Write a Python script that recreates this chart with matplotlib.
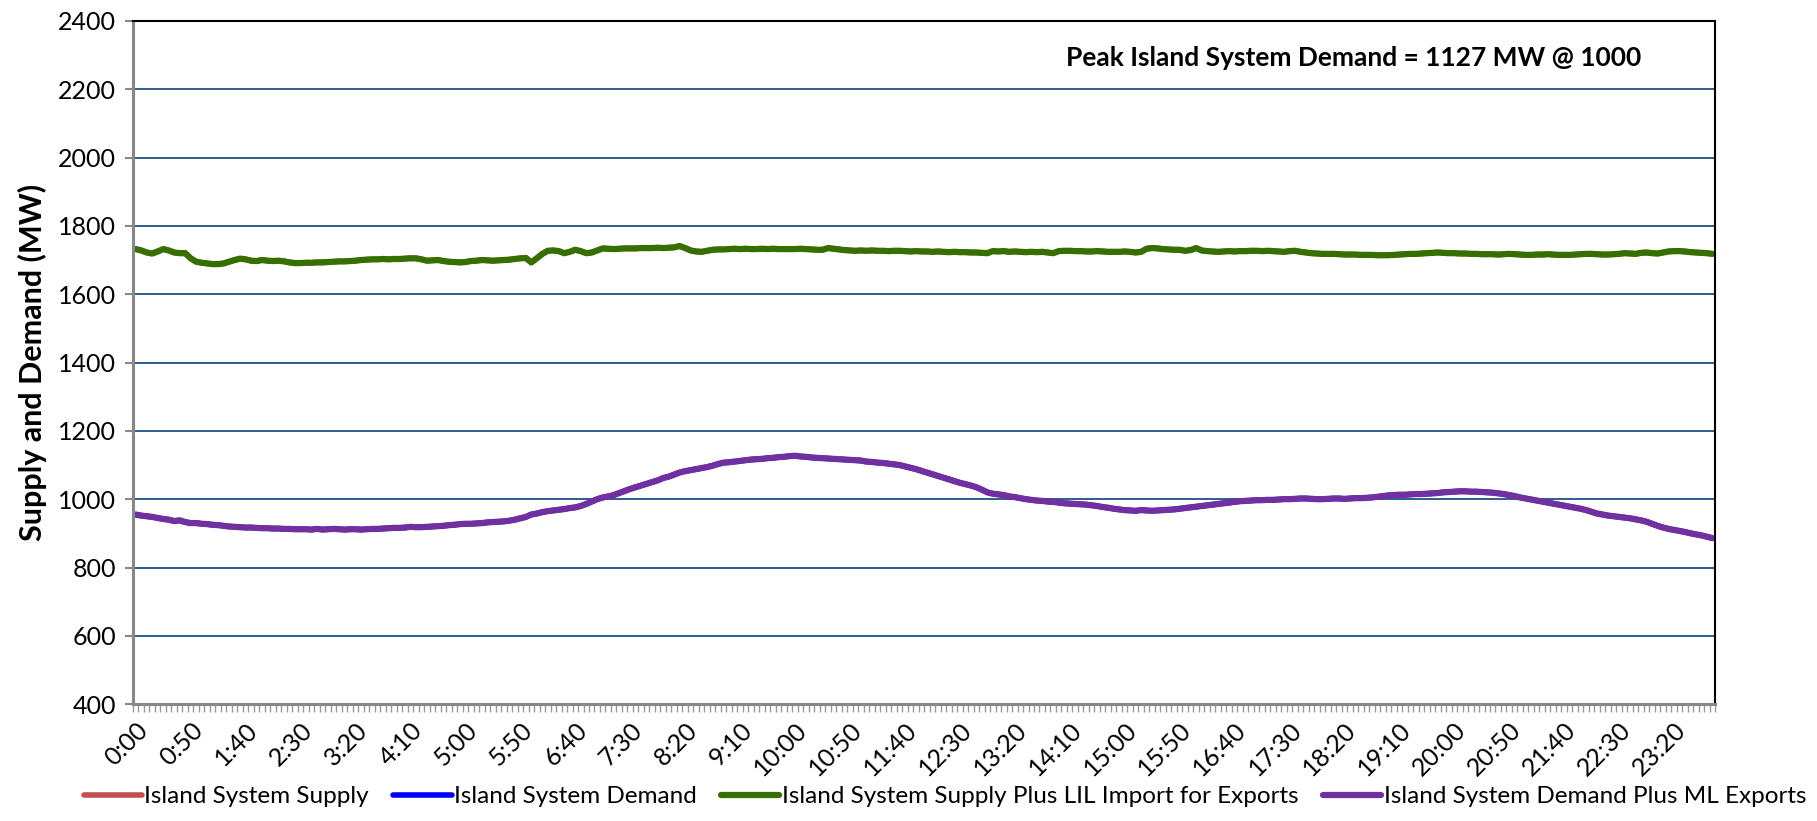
import numpy as np
import matplotlib
matplotlib.use("Agg")
import matplotlib.pyplot as plt

plt.rcParams['font.family'] = ['Lato', 'DejaVu Sans']

# dados de 5 em 5 minutos (288 pontos)
# Island System Demand Plus ML Exports (MW)
demand_plus_ml = [
    955, 952, 950, 948, 945, 942, 940, 936, 938, 933, 930, 930,
    928, 927, 925, 924, 922, 920, 919, 918, 917, 917, 916, 915,
    915, 914, 914, 913, 913, 912, 912, 912, 911, 913, 911, 912,
    913, 912, 911, 912, 912, 911, 912, 913, 913, 914, 915, 916,
    916, 917, 919, 918, 918, 919, 920, 921, 922, 924, 925, 927,
    928, 928, 929, 930, 932, 933, 934, 935, 937, 940, 944, 948,
    955, 958, 962, 965, 967, 969, 971, 974, 976, 980, 986, 993,
    1000, 1005, 1008, 1012, 1018, 1024, 1030, 1035, 1040, 1045, 1050, 1055,
    1062, 1066, 1072, 1078, 1082, 1085, 1088, 1091, 1094, 1098, 1103, 1107,
    1108, 1110, 1112, 1114, 1116, 1117, 1118, 1120, 1121, 1123, 1124, 1126,
    1127, 1125, 1124, 1122, 1121, 1120, 1119, 1118, 1117, 1116, 1115, 1114,
    1113, 1110, 1109, 1107, 1106, 1104, 1102, 1100, 1096, 1092, 1088, 1083,
    1078, 1073, 1068, 1063, 1058, 1053, 1048, 1044, 1040, 1035, 1028, 1020,
    1016, 1014, 1012, 1008, 1006, 1003, 1000, 998, 996, 995, 993, 992,
    990, 988, 987, 986, 985, 984, 982, 980, 977, 975, 972, 970,
    968, 967, 966, 968, 967, 966, 967, 968, 969, 970, 972, 974,
    976, 978, 980, 982, 984, 986, 988, 990, 992, 994, 995, 996,
    997, 997, 998, 998, 999, 1000, 1000, 1001, 1002, 1002, 1001, 1000,
    1000, 1001, 1002, 1002, 1001, 1002, 1003, 1003, 1004, 1005, 1007, 1009,
    1011, 1012, 1013, 1013, 1014, 1015, 1015, 1016, 1017, 1018, 1020, 1021,
    1022, 1023, 1023, 1022, 1022, 1021, 1020, 1019, 1017, 1015, 1012, 1009,
    1005, 1002, 999, 996, 993, 990, 987, 984, 981, 978, 975, 972,
    968, 963, 958, 955, 952, 950, 948, 946, 944, 941, 938, 934,
    928, 922, 917, 913, 910, 907, 904, 900, 897, 894, 890, 886,
]

# Island System Supply Plus LIL Import for Exports (MW)
supply_plus_lil = [
    1732, 1728, 1722, 1719, 1725, 1732, 1728, 1722, 1720, 1720, 1705, 1695,
    1692, 1690, 1688, 1688, 1690, 1695, 1700, 1704, 1702, 1698, 1697, 1700,
    1698, 1697, 1698, 1696, 1693, 1691, 1691, 1692, 1692, 1693, 1693, 1694,
    1695, 1696, 1696, 1697, 1698, 1700, 1701, 1702, 1702, 1703, 1702, 1703,
    1703, 1704, 1705, 1705, 1702, 1698, 1699, 1700, 1697, 1695, 1694, 1693,
    1694, 1697, 1698, 1700, 1699, 1698, 1699, 1700, 1701, 1703, 1705, 1706,
    1693, 1705, 1718, 1727, 1728, 1726, 1720, 1724, 1730, 1726, 1720, 1722,
    1728, 1734, 1733, 1732, 1733, 1734, 1734, 1734, 1735, 1735, 1735, 1736,
    1735, 1736, 1737, 1741, 1735, 1728, 1725, 1724, 1727, 1730, 1731, 1731,
    1732, 1733, 1732, 1733, 1732, 1732, 1733, 1732, 1733, 1732, 1732, 1732,
    1732, 1733, 1732, 1731, 1730, 1730, 1735, 1733, 1731, 1729, 1728, 1727,
    1728, 1727, 1728, 1727, 1727, 1726, 1727, 1727, 1726, 1725, 1726, 1725,
    1725, 1724, 1725, 1724, 1723, 1724, 1723, 1723, 1722, 1722, 1721, 1720,
    1726, 1725, 1726, 1724, 1725, 1724, 1723, 1724, 1723, 1724, 1722, 1720,
    1726, 1727, 1727, 1726, 1726, 1725, 1725, 1726, 1725, 1724, 1724, 1724,
    1725, 1724, 1722, 1724, 1733, 1735, 1734, 1732, 1731, 1730, 1730, 1727,
    1729, 1735, 1728, 1726, 1725, 1724, 1725, 1726, 1725, 1726, 1726, 1727,
    1727, 1726, 1727, 1726, 1725, 1724, 1726, 1727, 1724, 1722, 1720, 1719,
    1718, 1718, 1718, 1717, 1716, 1716, 1716, 1715, 1715, 1715, 1714, 1714,
    1714, 1715, 1716, 1717, 1718, 1718, 1719, 1720, 1721, 1722, 1721, 1720,
    1720, 1719, 1719, 1718, 1718, 1717, 1717, 1717, 1716, 1717, 1718, 1717,
    1716, 1715, 1715, 1716, 1716, 1717, 1716, 1715, 1715, 1715, 1716, 1717,
    1718, 1718, 1717, 1716, 1716, 1717, 1718, 1720, 1719, 1718, 1721, 1722,
    1720, 1719, 1722, 1725, 1726, 1726, 1725, 1723, 1722, 1721, 1720, 1718,
]

# as series "Supply" e "Demand" ficam escondidas por baixo das outras
island_supply = supply_plus_lil
island_demand = demand_plus_ml

# rotulos de hora (5 min)
times = ['%d:%02d' % (m // 60, m % 60) for m in range(0, 1440, 5)]
x = np.arange(len(times))

fig = plt.figure(figsize=(18.17, 8.21), dpi=100)
ax = fig.add_axes([0.0732, 0.1423, 0.8708, 0.8323])

ax.plot(x, island_supply, color='#C0504D', lw=4, label='Island System Supply', solid_capstyle='round')
ax.plot(x, island_demand, color='#0000FF', lw=4, label='Island System Demand', solid_capstyle='round')
ax.plot(x, supply_plus_lil, color='#376E00', lw=4.5,
        label='Island System Supply Plus LIL Import for Exports', solid_capstyle='round')
ax.plot(x, demand_plus_ml, color='#7030A0', lw=4.5,
        label='Island System Demand Plus ML Exports', solid_capstyle='round')

ax.set_ylim(400, 2400)
ax.set_yticks(np.arange(400, 2401, 200))
ax.set_xlim(-0.5, len(x) - 0.5)

# linhas de grade horizontais
for yv in range(600, 2401, 200):
    ax.axhline(yv, color='#2F5B8F', lw=1.4, zorder=0)

# rotulos de 50 em 50 minutos
ax.set_xticks(x[::10])
ax.set_xticklabels(times[::10], rotation=45, ha='right', rotation_mode='anchor')
ax.set_xticks(np.arange(-0.5, len(x), 1), minor=True)
ax.tick_params(axis='x', which='major', length=0, pad=10, labelsize=18)
ax.tick_params(axis='x', which='minor', length=6, width=1, color='#999999', direction='out')
ax.tick_params(axis='y', length=6, width=1.5, color='#888888', labelsize=18, pad=6)

ax.spines['left'].set_color('#888888')
ax.spines['left'].set_linewidth(2.2)
ax.spines['bottom'].set_color('#888888')
ax.spines['bottom'].set_linewidth(2.2)
ax.spines['top'].set_color('black')
ax.spines['right'].set_color('black')
ax.spines['top'].set_linewidth(1.5)
ax.spines['right'].set_linewidth(1.5)

ax.set_ylabel('Supply and Demand (MW)', fontsize=22, fontweight='bold', labelpad=8)

ax.text(0.953, 0.946, 'Peak Island System Demand = 1127 MW @ 1000', transform=ax.transAxes,
        ha='right', va='center', fontsize=19, fontweight='bold')

fig.legend(loc='lower center', bbox_to_anchor=(0.52, -0.01), ncol=4, frameon=False,
           fontsize=17.5, handlelength=2.4, handletextpad=0.1, columnspacing=1.0)

plt.savefig('out.png', dpi=100)
